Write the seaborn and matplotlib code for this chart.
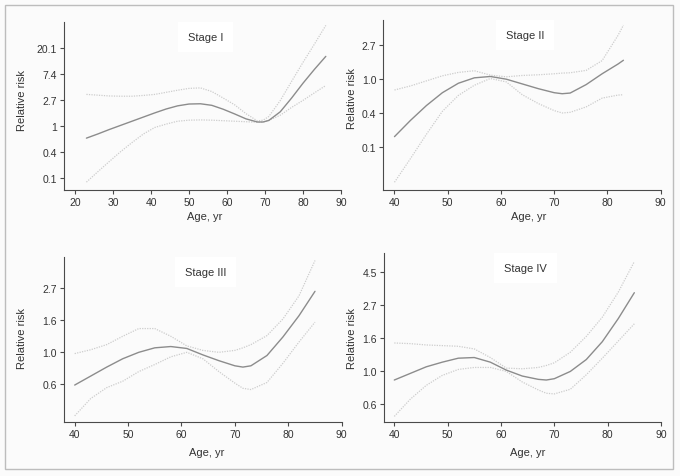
import numpy as np
import pandas as pd
import matplotlib
matplotlib.use("Agg")
import matplotlib.pyplot as plt
import seaborn as sns
from matplotlib.patches import Rectangle

sns.set_style("white")
plt.rcParams['font.family'] = ['Liberation Sans', 'DejaVu Sans']

# ---- data (log relative risk) ----
titles = ["Stage I", "Stage II", "Stage III", "Stage IV"]

age_1 = [23, 26, 29, 32, 35, 38, 41, 44, 47, 50, 53, 56, 59, 62, 65, 68, 69.5, 71, 74, 77, 80, 83, 86]
main_1 = [-0.46, -0.30, -0.13, 0.03, 0.19, 0.35, 0.51, 0.66, 0.78, 0.85, 0.86, 0.80, 0.65, 0.47,
          0.28, 0.16, 0.16, 0.22, 0.55, 1.08, 1.65, 2.18, 2.68]
upper_1 = [1.22, 1.19, 1.16, 1.15, 1.15, 1.18, 1.22, 1.30, 1.38, 1.45, 1.47, 1.33, 1.08, 0.82,
           0.48, 0.20, 0.23, 0.37, 0.98, 1.72, 2.45, 3.15, 3.87]
lower_1 = [-2.15, -1.75, -1.36, -0.98, -0.63, -0.30, -0.05, 0.08, 0.19, 0.23, 0.24, 0.23, 0.21,
           0.19, 0.17, 0.15, 0.16, 0.22, 0.42, 0.72, 0.99, 1.28, 1.56]

age_2 = [40, 43, 46, 49, 52, 55, 58, 61, 64, 67, 70, 71.5, 73, 76, 79, 82, 83]
main_2 = [-1.70, -1.22, -0.78, -0.40, -0.12, 0.04, 0.08, 0.00, -0.14, -0.28, -0.40, -0.43, -0.41,
          -0.16, 0.16, 0.45, 0.56]
upper_2 = [-0.32, -0.20, -0.05, 0.10, 0.20, 0.25, 0.12, 0.07, 0.11, 0.13, 0.16, 0.18, 0.19, 0.26,
           0.55, 1.30, 1.60]
lower_2 = [-3.05, -2.35, -1.63, -0.95, -0.48, -0.18, 0.02, -0.08, -0.46, -0.72, -0.93, -1.00, -0.98,
           -0.82, -0.56, -0.47, -0.46]

age_3 = [40, 43, 46, 49, 52, 55, 58, 61, 64, 67, 70, 71.5, 73, 76, 79, 82, 85]
main_3 = [-0.51, -0.37, -0.23, -0.10, 0.00, 0.07, 0.09, 0.06, -0.04, -0.13, -0.21, -0.23, -0.21,
          -0.05, 0.24, 0.57, 0.95]
upper_3 = [-0.02, 0.04, 0.12, 0.25, 0.37, 0.37, 0.25, 0.10, 0.03, 0.00, 0.03, 0.07, 0.12, 0.26,
           0.52, 0.88, 1.43]
lower_3 = [-0.99, -0.72, -0.55, -0.45, -0.30, -0.19, -0.07, 0.00, -0.10, -0.30, -0.48, -0.56, -0.58,
           -0.47, -0.17, 0.16, 0.47]

age_4 = [40, 43, 46, 49, 52, 55, 58, 61, 64, 67, 68.5, 70, 73, 76, 79, 82, 85]
main_4 = [-0.13, -0.03, 0.07, 0.14, 0.20, 0.21, 0.14, 0.02, -0.07, -0.12, -0.13, -0.11, 0.00, 0.18,
          0.45, 0.80, 1.19]
upper_4 = [0.43, 0.42, 0.40, 0.39, 0.38, 0.34, 0.21, 0.05, 0.04, 0.06, 0.09, 0.13, 0.29, 0.53, 0.82,
           1.20, 1.66]
lower_4 = [-0.68, -0.42, -0.21, -0.06, 0.03, 0.06, 0.06, 0.00, -0.16, -0.28, -0.33, -0.34, -0.27,
           -0.05, 0.20, 0.46, 0.72]

xticks_1 = [20, 30, 40, 50, 60, 70, 80, 90]
xticks_rest = [40, 50, 60, 70, 80, 90]
yticks_1 = [-2, -1, 0, 1, 2, 3]
yticklabels_1 = ["0.1", "0.4", "1", "2.7", "7.4", "20.1"]
yticks_2 = [-2, -1, 0, 1]
yticklabels_2 = ["0.1", "0.4", "1.0", "2.7"]
yticks_3 = [-0.5, 0, 0.5, 1]
yticklabels_3 = ["0.6", "1.0", "1.6", "2.7"]
yticks_4 = [-0.5, 0, 0.5, 1, 1.5]
yticklabels_4 = ["0.6", "1.0", "1.6", "2.7", "4.5"]

panels = [
    dict(age=age_1, main=main_1, upper=upper_1, lower=lower_1, xt=xticks_1,
         yt=yticks_1, ytl=yticklabels_1, xlim=(17.1, 90), ylim=(-2.44, 4.0),
         rect=[64, 23, 341, 190.7], ylab=(-0.135, 0.537), xlab=(0.509, -0.127)),
    dict(age=age_2, main=main_2, upper=upper_2, lower=lower_2, xt=xticks_rest,
         yt=yticks_2, ytl=yticklabels_2, xlim=(37.9, 90), ylim=(-3.27, 1.76),
         rect=[383.3, 20.7, 660.7, 190.7], ylab=(-0.096, 0.544), xlab=(0.523, -0.127)),
    dict(age=age_3, main=main_3, upper=upper_3, lower=lower_3, xt=xticks_rest,
         yt=yticks_3, ytl=yticklabels_3, xlim=(38.0, 90), ylim=(-1.09, 1.48),
         rect=[64, 258.3, 341.7, 423.3], ylab=(-0.135, 0.515), xlab=(0.515, -0.152)),
    dict(age=age_4, main=main_4, upper=upper_4, lower=lower_4, xt=xticks_rest,
         yt=yticks_4, ytl=yticklabels_4, xlim=(38.07, 90), ylim=(-0.76, 1.79),
         rect=[384, 254, 661, 422.7], ylab=(-0.099, 0.50), xlab=(0.517, -0.151)),
]

W, H = 680, 477
fig = plt.figure(figsize=(W / 100, H / 100), dpi=100)
fig.patch.set_facecolor("#fbfbfb")
fig.patches.append(Rectangle((5 / W, 1 - 470 / H), (673.3 - 5) / W, (470 - 6) / H,
                             transform=fig.transFigure, fill=False,
                             edgecolor="#bdbdbd", linewidth=1.0))

spine_c = "#4a4a4a"
text_c = "#333333"

for title, p in zip(titles, panels):
    x0, y0, x1, y1 = p["rect"]
    ax = fig.add_axes([x0 / W, 1 - y1 / H, (x1 - x0) / W, (y1 - y0) / H])
    ax.set_facecolor("none")
    df = pd.DataFrame({"age": p["age"], "main": p["main"],
                       "upper": p["upper"], "lower": p["lower"]})
    for col in ["upper", "lower"]:
        sns.lineplot(data=df, x="age", y=col, ax=ax, color="#cdcdcd",
                     linewidth=0.9, linestyle=(0, (1, 1)), estimator=None)
    sns.lineplot(data=df, x="age", y="main", ax=ax, color="#8c8c8c",
                 linewidth=1.0, estimator=None)
    ax.set_xlim(*p["xlim"])
    ax.set_ylim(*p["ylim"])
    ax.set_xticks(p["xt"])
    ax.set_xticklabels([str(v) for v in p["xt"]])
    ax.set_yticks(p["yt"])
    ax.set_yticklabels(p["ytl"])
    for s in ["top", "right"]:
        ax.spines[s].set_visible(False)
    for s in ["left", "bottom"]:
        ax.spines[s].set_color(spine_c)
        ax.spines[s].set_linewidth(0.8)
    ax.tick_params(axis="both", direction="out", length=3, width=0.8, color=spine_c,
                   labelsize=7.5, labelcolor=text_c, pad=2, left=True, bottom=True)
    ax.set_xlabel("Age, yr", fontsize=8, color=text_c)
    ax.set_ylabel("Relative risk", fontsize=8, color=text_c)
    ax.xaxis.set_label_coords(*p["xlab"])
    ax.yaxis.set_label_coords(*p["ylab"])
    ax.text(0.51, 0.91, title, transform=ax.transAxes, ha="center", va="center",
            fontsize=8, color=text_c,
            bbox=dict(boxstyle="square,pad=0.9", facecolor="white", edgecolor="none"))

fig.savefig("out.png", dpi=100, facecolor=fig.get_facecolor())
